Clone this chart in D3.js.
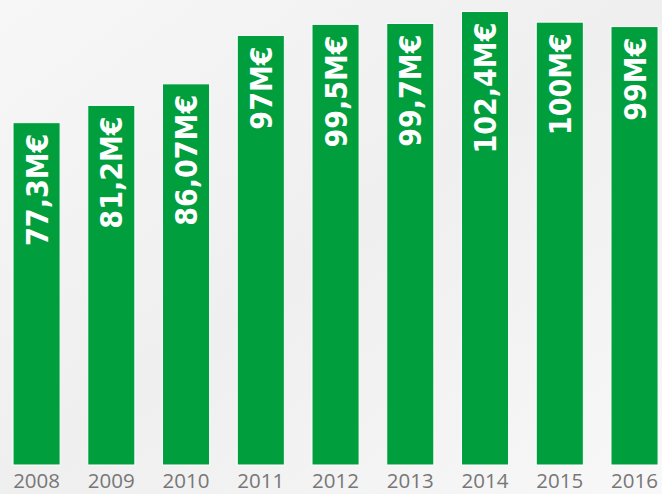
<!DOCTYPE html>
<html>
<head>
<meta charset="utf-8">
<script src="https://cdn.jsdelivr.net/npm/d3@7"></script>
<style>
  body { margin: 0; background: #f5f5f5; }
  svg { display: block; }
  .bar { fill: #009e3d; stroke: #ffffff; stroke-width: 1; }
  .bar-label { fill: #ffffff; font-family: "DejaVu Sans Condensed", "DejaVu Sans", sans-serif; font-weight: bold; font-size: 30px; }
  .year { fill: #777777; font-family: "Open Sans", sans-serif; font-size: 20.5px; }
</style>
</head>
<body>
<div id="chart"></div>
<script>
const years = ['2008', '2009', '2010', '2011', '2012', '2013', '2014', '2015', '2016'];
const values = [77.3, 81.2, 86.07, 97, 99.5, 99.7, 102.4, 100, 99];
const labels = ['77,3M€', '81,2M€', '86,07M€', '97M€', '99,5M€', '99,7M€', '102,4M€', '100M€', '99M€'];

const w = 662, h = 494;
const svg = d3.select('#chart').append('svg')
  .attr('width', w)
  .attr('height', h);

// soft background gradient like the original
const grad = svg.append('defs').append('linearGradient')
  .attr('id', 'bg').attr('x1', 0).attr('y1', 0).attr('x2', 1).attr('y2', 1);
grad.append('stop').attr('offset', '0%').attr('stop-color', '#f7f7f7');
grad.append('stop').attr('offset', '50%').attr('stop-color', '#efefef');
grad.append('stop').attr('offset', '100%').attr('stop-color', '#f8f8f8');
svg.append('rect').attr('width', w).attr('height', h).attr('fill', 'url(#bg)');

const x = d3.scaleBand()
  .domain(years)
  .range([-0.8, 671.9])
  .paddingInner(0.37)
  .paddingOuter(0.185);

const y = d3.scaleLinear()
  .domain([0, 105])
  .range([465, 0]);

const data = years.map((yr, i) => ({ year: yr, value: values[i], label: labels[i] }));

svg.append('g').selectAll('.bar')
  .data(data)
  .enter()
  .append('rect')
  .attr('class', 'bar')
  .attr('x', d => x(d.year))
  .attr('y', d => y(d.value))
  .attr('width', x.bandwidth())
  .attr('height', d => y(0) - y(d.value));

svg.append('g').selectAll('.bar-label')
  .data(data)
  .enter()
  .append('text')
  .attr('class', 'bar-label')
  .attr('text-anchor', 'end')
  .attr('transform', d => `translate(${x(d.year) + x.bandwidth() / 2 + 11},${y(d.value) + 11}) rotate(-90)`)
  .text(d => d.label);

// years sit right at the bottom edge, kept just inside the frame
svg.append('g').selectAll('.year')
  .data(data)
  .enter()
  .append('text')
  .attr('class', 'year')
  .attr('text-anchor', 'middle')
  .attr('x', d => x(d.year) + x.bandwidth() / 2)
  .attr('y', 488)
  .text(d => d.year);
</script>
</body>
</html>
